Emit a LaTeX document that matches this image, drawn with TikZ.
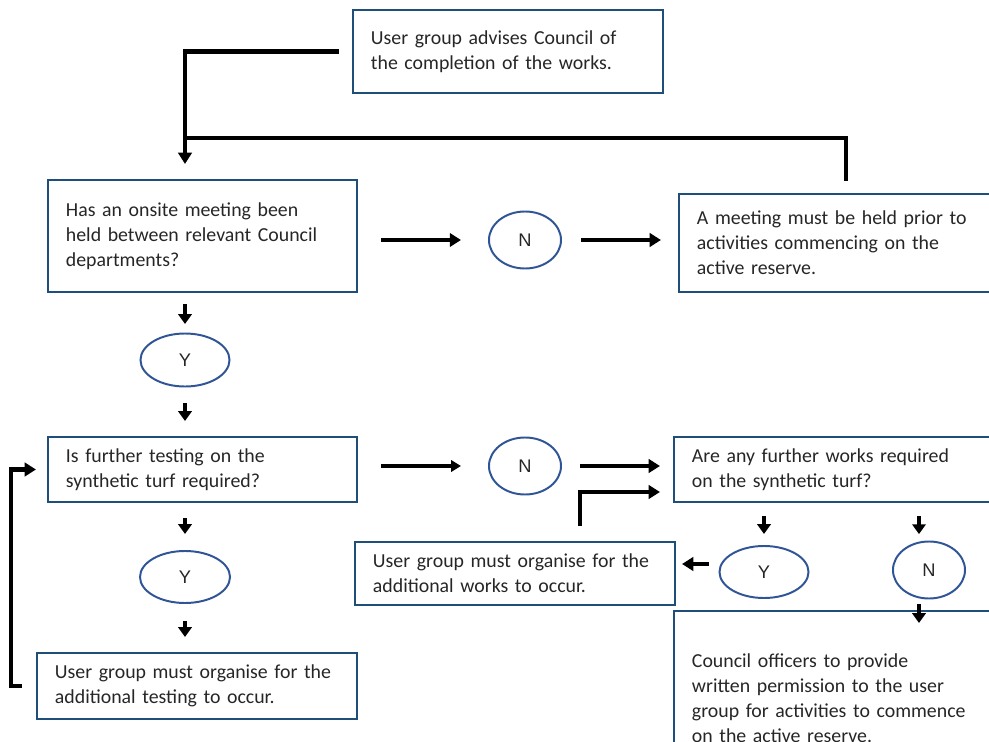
\documentclass[tikz,border=0pt]{standalone}
\usepackage{fontspec}
\setmainfont{Carlito}
\newfontfamily\ovalfont{Liberation Sans}
\usepackage{tikz}
\usetikzlibrary{positioning,calc,shapes.geometric,arrows.meta}
\definecolor{boxline}{RGB}{31,78,121}
\definecolor{ovalline}{RGB}{47,85,151}

\tikzset{
  stepbox/.style={draw=boxline, line width=1.4pt, rectangle, align=left,
    inner xsep=0.45cm, inner ysep=0pt, text=black!85,
    font=\fontsize{14.1}{17.7}\selectfont},
  yesno/.style={draw=ovalline, line width=1.4pt, ellipse, inner sep=0pt,
    text=black!85, font=\ovalfont\fontsize{13}{15}\selectfont},
  flow/.style={line width=3.5pt, -{Triangle[length=8pt,width=9.5pt]}},
  thinflow/.style={line width=2.6pt, -{Triangle[length=7pt,width=8pt]}},
  down/.style={line width=2.6pt, -{Triangle[length=7pt,width=9.5pt]}},
}

\begin{document}
\begin{tikzpicture}[x=0.025cm,y=-0.025cm]
      \useasboundingbox (0,0) rectangle (989,742);

      % boxes
      \node[stepbox, text width=6.85cm, minimum height=2.075cm] (top) at (508,51.5)
        {User group advises Council of\\the completion of the works.};
      \node[stepbox, text width=6.825cm, minimum height=2.8cm] (meet) at (202.5,236)
        {Has an onsite meeting been\\held between relevant Council\\departments?};
      \node[stepbox, text width=7.45cm, minimum height=2.45cm] (prior) at (846,243)
        {A meeting must be held prior to\\activities commencing on the\\active reserve.};
      \node[stepbox, text width=6.825cm, minimum height=1.625cm] (testq) at (202.5,469.5)
        {Is further testing on the\\synthetic turf required?};
      \node[stepbox, text width=7.25cm, minimum height=1.625cm] (worksq) at (837,469.5)
        {Are any further works required\\on the synthetic turf?};
      \node[stepbox, text width=7.1cm, minimum height=1.575cm] (addworks) at (515,573.5)
        {User group must organise for the\\additional works to occur.};
      \node[stepbox, text width=7.1cm, minimum height=1.65cm] (addtest) at (197,686)
        {User group must organise for the\\additional testing to occur.};
      \node[stepbox, text width=7.25cm, minimum height=4.35cm] (permit) at (837,698)
        {Council officers to provide\\written permission to the user\\group for activities to commence\\on the active reserve.};

      % answers
      \node[yesno, minimum width=1.8cm, minimum height=1.425cm] (n1) at (525,240) {N};
      \node[yesno, minimum width=2.225cm, minimum height=1.325cm] (y1) at (185,360) {Y};
      \node[yesno, minimum width=1.8cm, minimum height=1.425cm] (n2) at (525,466) {N};
      \node[yesno, minimum width=2.25cm, minimum height=1.3cm] (y2) at (185,577) {Y};
      \node[yesno, minimum width=2.225cm, minimum height=1.3cm] (y3) at (764,572) {Y};
      \node[yesno, minimum width=1.8cm, minimum height=1.425cm] (n3) at (929,570) {N};

      \coordinate (join) at (185,138);
      \coordinate (ntop) at ([xshift=-0.25cm]n3.north);
      \coordinate (nbot) at ([xshift=-0.25cm]n3.south);

      % top loop
      \draw[flow, shorten <=0.325cm, shorten >=0.375cm] (top.west) -| (y1 |- meet.north);
      \draw[line width=3.5pt, shorten <=0.3cm] (prior.north) |- (join);

      \draw[flow, shorten <=0.575cm, shorten >=0.675cm] (meet.east |- n1) -- (n1.west);
      \draw[flow, shorten <=0.475cm, shorten >=0.425cm] (n1.east) -- (prior.west |- n1);

      \draw[down, shorten <=0.275cm, shorten >=0.2125cm] (y1 |- meet.south) -- (y1.north);
      \draw[down, shorten <=0.39cm, shorten >=0.375cm] (y1.south) -- (y1 |- testq.north);

      % second question
      \draw[thinflow, shorten <=0.575cm, shorten >=0.675cm] (testq.east |- n2) -- (n2.west);
      \draw[flow, shorten <=0.45cm, shorten >=0.325cm] (n2.east) -- (worksq.west |- n2);
      \draw[flow, shorten <=0.375cm, shorten >=0.325cm] ([xshift=1.625cm]addworks.north)
        |- ([yshift=-0.5625cm]worksq.west);

      \draw[down, shorten <=0.375cm, shorten >=0.4cm] (y2 |- testq.south) -- (y2.north);
      \draw[down, shorten <=0.425cm, shorten >=0.375cm] (y2.south) -- (y2 |- addtest.north);
      \draw[flow, shorten <=0.35cm, shorten >=0.275cm] (addtest.west) -- ++(-25,0) |- (testq.west);

      % works answers
      \draw[down, shorten <=0.325cm, shorten >=0.275cm] (y3 |- worksq.south) -- (y3.north);
      \draw[down, shorten <=0.325cm, shorten >=0.16cm] (ntop |- worksq.south) -- (ntop);
      \draw[flow, shorten <=0.24cm, shorten >=0.15cm] ([yshift=0.2cm]y3.west)
        -- ([yshift=0.2cm]y3.west -| addworks.east);
      \draw[down, shorten <=0.11cm, shorten >=-0.325cm] (nbot) -- (nbot |- permit.north);
    \end{tikzpicture}
\end{document}
